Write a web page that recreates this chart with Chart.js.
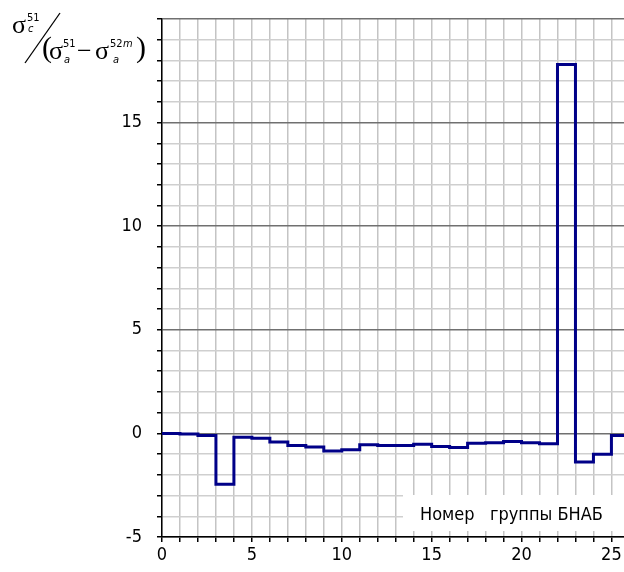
<!DOCTYPE html>
<html>
<head>
<meta charset="utf-8">
<script src="https://cdn.jsdelivr.net/npm/chart.js@4"></script>
<style>
  body { margin: 0; background: #fff; }
  canvas { display: block; }
</style>
</head>
<body>
<canvas id="chart" width="624" height="572"></canvas>
<script>
// номер группы БНАБ (начало ступени) и значение отношения напряжений
const groupNo = [0, 1, 2, 3, 4, 5, 6, 7, 8, 9, 10, 11, 12, 13, 14, 15, 16, 17, 18, 19, 20, 21, 22, 23, 24, 25];
const ratio = [0.0, -0.03, -0.1, -2.45, -0.18, -0.24, -0.42, -0.58, -0.66, -0.85, -0.79, -0.55, -0.58,
               -0.58, -0.52, -0.63, -0.68, -0.48, -0.45, -0.39, -0.45, -0.5, 17.8, -1.38, -1.01, -0.1];
const xMin = 0, xMax = 25.7;
const yMin = -5, yMax = 20;
const xLabels = [0, 5, 10, 15, 20, 25];
const yLabels = [-5, 0, 5, 10, 15];
const axisTitle = 'Номер   группы БНАБ';

const FONT = "'DejaVu Sans Condensed', 'DejaVu Sans', sans-serif";

// точки ступенчатой линии, последняя ступень тянется до края графика
const points = groupNo.map((g, i) => ({ x: g, y: ratio[i] }));
points.push({ x: xMax, y: ratio[ratio.length - 1] });

/* Подписи: формула оси Y и надпись оси X */
const labelsPlugin = {
    id: 'labels',
    afterDraw(chart) {
        const ctx = chart.ctx;
        const area = chart.chartArea;
        ctx.save();

        // надпись на белом фоне внизу справа
        ctx.fillStyle = '#fff';
        ctx.fillRect(403, 495, area.right - 403, 36);
        ctx.fillStyle = '#000';
        ctx.font = '18px ' + FONT;
        ctx.textBaseline = 'alphabetic';
        ctx.textAlign = 'left';
        ctx.fillText(axisTitle, 420, 520);

        // формула  σc51 / (σa51 − σa52m)
        const serif = "'Liberation Serif', 'DejaVu Serif', serif";
        ctx.font = '26px ' + serif;
        ctx.fillText('σ', 12, 33);
        ctx.font = '11px ' + FONT;
        ctx.fillText('51', 27, 21);
        ctx.font = 'italic 11px ' + FONT;
        ctx.fillText('c', 28, 32);

        ctx.strokeStyle = '#000';
        ctx.lineWidth = 1.3;
        ctx.beginPath();
        ctx.moveTo(60, 13);
        ctx.lineTo(25, 63);
        ctx.stroke();

        ctx.font = '30px ' + serif;
        ctx.fillText('(', 42, 57);
        ctx.font = '26px ' + serif;
        ctx.fillText('σ', 49, 59);
        ctx.font = '11px ' + FONT;
        ctx.fillText('51', 63, 47);
        ctx.font = 'italic 11px ' + FONT;
        ctx.fillText('a', 64, 63);

        ctx.font = '26px ' + serif;
        ctx.fillText('−', 77, 59);
        ctx.fillText('σ', 95, 59);
        ctx.font = '11px ' + FONT;
        ctx.fillText('52', 110, 47);
        ctx.font = 'italic 11px ' + FONT;
        ctx.fillText('m', 123, 47);
        ctx.fillText('a', 113, 63);
        ctx.font = '30px ' + serif;
        ctx.fillText(')', 136, 57);
        ctx.restore();
    }
};

const chart = new Chart(document.getElementById('chart'), {
    type: 'line',
    data: {
        datasets: [{
            data: points,
            stepped: 'before',
            borderColor: '#000088',
            borderWidth: 3,
            pointRadius: 0,
            fill: false
        }]
    },
    options: {
        responsive: false,
        animation: false,
        layout: { padding: { left: 0, top: 19, right: 0, bottom: 0 } },
        plugins: {
            legend: { display: false },
            tooltip: { enabled: false }
        },
        scales: {
            x: {
                type: 'linear',
                min: xMin,
                max: xMax,
                afterFit(scale) {
                    scale.height = 35;
                    scale.paddingLeft = 0;
                    scale.paddingRight = 0;
                },
                border: { color: '#000', width: 1.5 },
                grid: {
                    color: '#c4c4c4',
                    lineWidth: 1.5,
                    tickColor: '#000',
                    tickLength: 5
                },
                ticks: {
                    stepSize: 1,
                    autoSkip: false,
                    includeBounds: false,
                    maxRotation: 0,
                    padding: 3,
                    color: '#000',
                    font: { family: FONT, size: 18 },
                    callback: v => xLabels.includes(v) ? String(v) : ''
                }
            },
            y: {
                min: yMin,
                max: yMax,
                afterFit(scale) {
                    scale.width = 162;
                    scale.paddingTop = 0;
                    scale.paddingBottom = 0;
                },
                border: { color: '#000', width: 1.5 },
                grid: {
                    color: c => (c.tick && c.tick.value % 5 === 0) ? '#707070' : '#cfcfcf',
                    lineWidth: 1.5,
                    tickColor: '#000',
                    tickLength: 5
                },
                ticks: {
                    stepSize: 1,
                    autoSkip: false,
                    padding: 15,
                    color: '#000',
                    font: { family: FONT, size: 18 },
                    callback: v => yLabels.includes(v) ? String(v) : ''
                }
            }
        }
    },
    plugins: [labelsPlugin]
});
</script>
</body>
</html>
